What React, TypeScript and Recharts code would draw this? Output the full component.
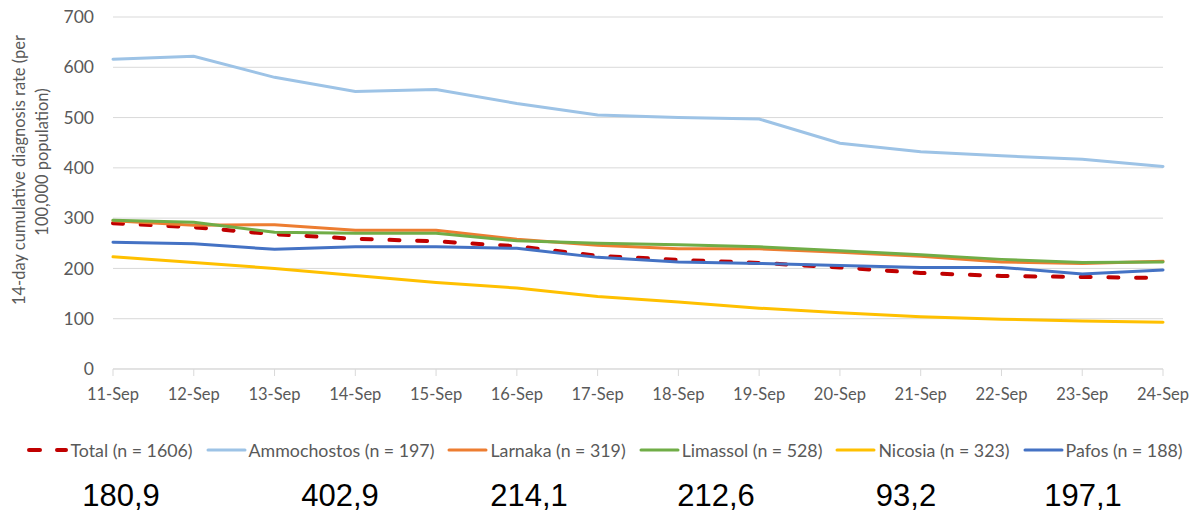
import React from 'react';
import { LineChart, Line, XAxis, YAxis, CartesianGrid } from 'recharts';

const dates = ['11-Sep', '12-Sep', '13-Sep', '14-Sep', '15-Sep', '16-Sep', '17-Sep', '18-Sep', '19-Sep', '20-Sep', '21-Sep', '22-Sep', '23-Sep', '24-Sep'];
const total = [290, 282, 268, 259, 254, 244, 225, 217, 211, 202, 191, 185, 183, 180.9];
const ammochostos = [616, 622, 580, 552, 556, 528, 505, 500, 497, 449, 432, 424, 417, 402.9];
const larnaka = [295, 286, 287, 276, 276, 258, 246, 239, 239, 232, 224, 213, 210, 214.1];
const limassol = [296, 292, 272, 270, 270, 255, 250, 247, 243, 235, 227, 218, 212, 212.6];
const nicosia = [223, 212, 200, 186, 172, 161, 144, 133, 121, 112, 104, 99, 95.5, 93.2];
const pafos = [252, 249, 238, 243, 243, 240, 222, 213, 210, 206, 202, 202, 189, 197.1];
const yTicks = [0, 100, 200, 300, 400, 500, 600, 700];

const seriesNames = ['Total (n = 1606)', 'Ammochostos (n = 197)', 'Larnaka (n = 319)', 'Limassol (n = 528)', 'Nicosia (n = 323)', 'Pafos (n = 188)'];
const seriesValues = [total, ammochostos, larnaka, limassol, nicosia, pafos];

const seriesStyle = [
  { color: '#C00000', width: 4, dash: '10 17.7' },
  { color: '#9DC3E6', width: 3, dash: undefined },
  { color: '#ED7D31', width: 3, dash: undefined },
  { color: '#70AD47', width: 3, dash: undefined },
  { color: '#FFC000', width: 3, dash: undefined },
  { color: '#4472C4', width: 3, dash: undefined },
];
const numberCenters = [121, 340, 529, 716, 906, 1083];

const data = dates.map((d, i) => {
  const row: Record<string, string | number> = { date: d };
  seriesValues.forEach((vals, s) => {
    row['s' + s] = vals[i];
  });
  return row;
});

const FONT = 'Lato, "Open Sans", sans-serif';
const GRAY = '#595959';

const YLabel = () => (
  <g>
    <text transform="translate(19,170) rotate(-90)" textAnchor="middle" dy="0.35em" fontFamily={FONT} fontSize={16.5} fill={GRAY}>
      14-day cumulative diagnosis rate (per
    </text>
    <text transform="translate(42,162) rotate(-90)" textAnchor="middle" dy="0.35em" fontFamily={FONT} fontSize={16.5} fill={GRAY}>
      100,000 population)
    </text>
  </g>
);

export default function App() {
  return (
    <div style={{ position: 'absolute', left: 0, top: 0, width: 1200, height: 515, background: '#fff' }}>
      <LineChart width={1200} height={515} data={data} margin={{ top: 17, right: 37, bottom: 0, left: 0 }}>
        <CartesianGrid vertical={false} stroke="#d9d9d9" strokeWidth={1} />
        <XAxis
          dataKey="date"
          interval={0}
          height={146}
          tickSize={7}
          tickMargin={12}
          axisLine={{ stroke: '#d9d9d9' }}
          tickLine={{ stroke: '#d9d9d9' }}
          tick={{ fill: GRAY, fontFamily: FONT, fontSize: 16.5 }}
        />
        <YAxis
          width={113}
          domain={[0, 700]}
          ticks={yTicks}
          axisLine={false}
          tickLine={false}
          tickSize={0}
          tickMargin={19}
          tick={{ fill: GRAY, fontFamily: FONT, fontSize: 17.5 }}
          label={{ content: () => <YLabel /> }}
        />
        {seriesNames.map((name, s) => (
          <Line
            key={name}
            name={name}
            dataKey={'s' + s}
            type="linear"
            stroke={seriesStyle[s].color}
            strokeWidth={seriesStyle[s].width}
            strokeDasharray={seriesStyle[s].dash}
            strokeLinecap="round"
            dot={false}
            activeDot={false}
            isAnimationActive={false}
          />
        ))}
      </LineChart>
      <div
        style={{
          position: 'absolute',
          top: 439,
          left: 5,
          width: 1200,
          display: 'flex',
          justifyContent: 'center',
          gap: 13,
          fontFamily: FONT,
          fontSize: 17.8,
          color: GRAY,
          whiteSpace: 'nowrap',
        }}
      >
        {seriesNames.map((name, s) => (
          <div key={name} style={{ display: 'flex', alignItems: 'center', gap: 2 }}>
            <svg width={41} height={10}>
              <line
                x1={2}
                y1={5}
                x2={39}
                y2={5}
                stroke={seriesStyle[s].color}
                strokeWidth={seriesStyle[s].width}
                strokeDasharray={seriesStyle[s].dash ? '11 17' : undefined}
                strokeLinecap="round"
              />
            </svg>
            <span>{name}</span>
          </div>
        ))}
      </div>
      {seriesValues.map((vals, s) => (
        <div
          key={'n' + s}
          style={{
            position: 'absolute',
            top: 478,
            left: numberCenters[s] - 60,
            width: 120,
            textAlign: 'center',
            fontFamily: '"Liberation Sans", Arial, sans-serif',
            fontSize: 31,
            color: '#000',
          }}
        >
          {vals[vals.length - 1].toFixed(1).replace('.', ',')}
        </div>
      ))}
    </div>
  );
}
